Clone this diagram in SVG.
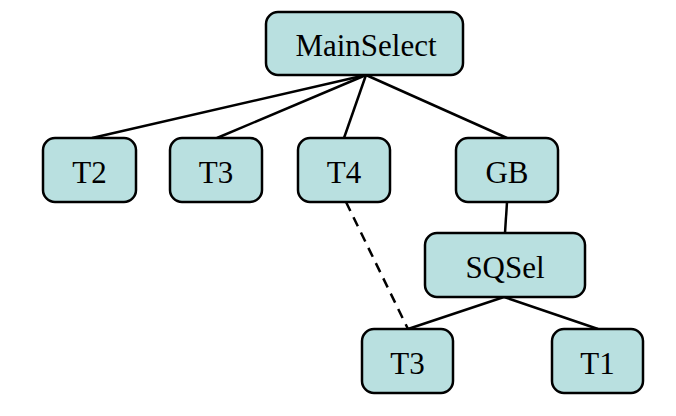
<svg xmlns="http://www.w3.org/2000/svg" width="676" height="416" viewBox="0 0 676 416">
<style>
.n rect{fill:#b9e0e0;stroke:#000;stroke-width:2.5}
.n text{font-family:"Liberation Serif",serif;font-size:31px;text-anchor:middle;fill:#000}
.c line{stroke:#000;stroke-width:2.5}
.d{stroke-dasharray:10,7}
</style>
<rect width="676" height="416" fill="#fff"/>
<g class="c">
<line x1="366" y1="75" x2="92" y2="138"/>
<line x1="366" y1="75" x2="217" y2="138"/>
<line x1="366" y1="75" x2="344" y2="138"/>
<line x1="366" y1="75" x2="507" y2="138"/>
<line x1="507" y1="202" x2="505" y2="233"/>
<line x1="504" y1="297" x2="408" y2="329"/>
<line x1="504" y1="297" x2="598" y2="329"/>
<line class="d" x1="346" y1="202" x2="408" y2="329"/>
</g>
<g id="mainselect" class="n"><rect x="266" y="12" width="197" height="63" rx="12"/><text x="366" y="56">MainSelect</text></g>
<g id="t2" class="n"><rect x="43" y="138" width="93" height="64" rx="12"/><text x="89.5" y="183">T2</text></g>
<g id="t3a" class="n"><rect x="170" y="138" width="92" height="64" rx="12"/><text x="216" y="183">T3</text></g>
<g id="t4" class="n"><rect x="298" y="138" width="92" height="64" rx="12"/><text x="344" y="183">T4</text></g>
<g id="gb" class="n"><rect x="456" y="138" width="102" height="64" rx="12"/><text x="507" y="183">GB</text></g>
<g id="sqsel" class="n"><rect x="425" y="233" width="160" height="64" rx="12"/><text x="505" y="278">SQSel</text></g>
<g id="t3b" class="n"><rect x="362" y="329" width="91" height="64" rx="12"/><text x="407.5" y="374">T3</text></g>
<g id="t1" class="n"><rect x="552" y="329" width="91" height="64" rx="12"/><text x="597.5" y="374">T1</text></g>
</svg>
